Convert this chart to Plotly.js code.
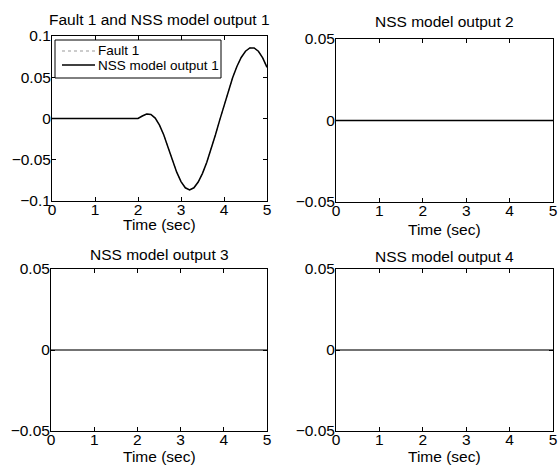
<!DOCTYPE html>
<html>
<head>
<meta charset="utf-8">
<script src="https://cdn.plot.ly/plotly-3.0.1.min.js"></script>
<style>html,body{margin:0;padding:0;background:#fff}#chart{width:560px;height:470px}</style>
</head>
<body>
<div id="chart"></div>
<script>
// ---- data ----
const time = [0, 0.5, 1, 1.5, 2.0, 2.1, 2.2, 2.3, 2.4, 2.5, 2.6, 2.7, 2.8, 2.9, 3.0, 3.1, 3.2, 3.3, 3.4, 3.5, 3.6, 3.7, 3.8, 3.9, 4.0, 4.1, 4.2, 4.3, 4.4, 4.5, 4.6, 4.7, 4.8, 4.9, 5.0];
const fault1 = [0, 0, 0, 0, 0, 0.0030, 0.0055, 0.0048, 0.0005, -0.0080, -0.0200, -0.0350, -0.0510, -0.0650, -0.0765, -0.0840, -0.0865, -0.0840, -0.0770, -0.0665, -0.0530, -0.0370, -0.0200, -0.0020, 0.0160, 0.0335, 0.0495, 0.0630, 0.0740, 0.0815, 0.0855, 0.0855, 0.0815, 0.0735, 0.0620];
const nssOutput1 = [0, 0, 0, 0, 0, 0.0030, 0.0055, 0.0048, 0.0005, -0.0080, -0.0200, -0.0350, -0.0510, -0.0650, -0.0765, -0.0840, -0.0865, -0.0840, -0.0770, -0.0665, -0.0530, -0.0370, -0.0200, -0.0020, 0.0160, 0.0335, 0.0495, 0.0630, 0.0740, 0.0815, 0.0855, 0.0855, 0.0815, 0.0735, 0.0620];
const timeFlat = [0, 1, 2, 3, 4, 5];
const nssOutput2 = [0, 0, 0, 0, 0, 0];
const nssOutput3 = [0, 0, 0, 0, 0, 0];
const nssOutput4 = [0, 0, 0, 0, 0, 0];
const titles = ["Fault 1 and NSS model output 1", "NSS model output 2", "NSS model output 3", "NSS model output 4"];
const legendNames = ["Fault 1", "NSS model output 1"];
const xLabel = "Time (sec)";
const xTicks = [0, 1, 2, 3, 4, 5];
const xTickText = ["0", "1", "2", "3", "4", "5"];
const yTicks1 = [-0.1, -0.05, 0, 0.05, 0.1];
const yTickText1 = ["\u22120.1", "\u22120.05", "0", "0.05", "0.1"];
const yTicks = [-0.05, 0, 0.05];
const yTickText = ["\u22120.05", "0", "0.05"];

// ---- layout ----
const W = 560, H = 470;
const FONT = '"Liberation Sans", Arial, Helvetica, sans-serif';
const FS = 15.5;
const boxes = [
  {l: 52, r: 267, t: 36, b: 201},
  {l: 336, r: 553, t: 39, b: 202},
  {l: 51, r: 267, t: 269, b: 431},
  {l: 336, r: 553, t: 269, b: 431}
];
function xd(b){ return [b.l / W, b.r / W]; }
function yd(b){ return [1 - b.b / H, 1 - b.t / H]; }

function xaxis(b, anchor){
  return {domain: xd(b), anchor: anchor, range: [0, 5], tickvals: xTicks, ticktext: xTickText,
    ticks: 'inside', ticklen: 4, tickcolor: '#000', showline: true, linecolor: '#000', linewidth: 1,
    mirror: 'ticks', showgrid: false, zeroline: false, ticklabelstandoff: -6,
    tickfont: {size: FS, color: '#000', family: FONT}, fixedrange: true};
}
function yaxis(b, anchor, tv, tt, rng){
  return {domain: yd(b), anchor: anchor, range: rng, tickvals: tv, ticktext: tt,
    ticks: 'inside', ticklen: 4, tickcolor: '#000', showline: true, linecolor: '#000', linewidth: 1,
    mirror: 'ticks', showgrid: false, zeroline: false, ticklabelstandoff: -3,
    tickfont: {size: FS, color: '#000', family: FONT}, fixedrange: true};
}

const traces = [
  {x: time, y: fault1, xaxis: 'x', yaxis: 'y', mode: 'lines', name: legendNames[0],
   line: {color: '#999', width: 1, dash: 'dot'}},
  {x: time, y: nssOutput1, xaxis: 'x', yaxis: 'y', mode: 'lines', name: legendNames[1],
   line: {color: '#000', width: 1.5}},
  {x: timeFlat, y: nssOutput2, xaxis: 'x2', yaxis: 'y2', mode: 'lines',
   line: {color: '#000', width: 1.3}},
  {x: timeFlat, y: nssOutput3, xaxis: 'x3', yaxis: 'y3', mode: 'lines',
   line: {color: '#444', width: 1.4}},
  {x: timeFlat, y: nssOutput4, xaxis: 'x4', yaxis: 'y4', mode: 'lines',
   line: {color: '#444', width: 1.4}}
];

const annotations = [];
const titleY = [20, 22, 255, 256];
const labelY = [224, 230, 456, 456];
boxes.forEach((b, i) => {
  annotations.push({text: titles[i], xref: 'paper', yref: 'paper', x: (b.l + b.r) / 2 / W, y: 1 - titleY[i] / H,
    xanchor: 'center', yanchor: 'middle', showarrow: false, font: {size: FS, color: '#000', family: FONT}});
  annotations.push({text: xLabel, xref: 'paper', yref: 'paper', x: (b.l + b.r) / 2 / W, y: 1 - labelY[i] / H,
    xanchor: 'center', yanchor: 'middle', showarrow: false, font: {size: FS, color: '#000', family: FONT}});
});

// compact MATLAB-style legend box inside subplot 1
const leg = {l: 55, r: 221, t: 40, b: 78, row1: 51, row2: 65, lineL: 62, lineR: 95, textL: 96};
const shapes = [
  {type: 'rect', xref: 'paper', yref: 'paper', x0: leg.l / W, x1: leg.r / W, y0: 1 - leg.b / H, y1: 1 - leg.t / H,
   line: {color: '#000', width: 1}, fillcolor: '#fff', layer: 'above'},
  {type: 'line', xref: 'paper', yref: 'paper', x0: leg.lineL / W, x1: leg.lineR / W, y0: 1 - leg.row1 / H, y1: 1 - leg.row1 / H,
   line: {color: '#999', width: 1, dash: 'dot'}, layer: 'above'},
  {type: 'line', xref: 'paper', yref: 'paper', x0: leg.lineL / W, x1: leg.lineR / W, y0: 1 - leg.row2 / H, y1: 1 - leg.row2 / H,
   line: {color: '#000', width: 1.5}, layer: 'above'}
];
[leg.row1, leg.row2].forEach((ry, i) => {
  annotations.push({text: legendNames[i], xref: 'paper', yref: 'paper', x: leg.textL / W, y: 1 - ry / H,
    xanchor: 'left', yanchor: 'middle', showarrow: false, font: {size: 13.5, color: '#000', family: FONT}});
});

const layout = {
  width: W, height: H,
  margin: {l: 0, r: 0, t: 0, b: 0},
  paper_bgcolor: '#fff', plot_bgcolor: '#fff',
  font: {family: FONT, color: '#000', size: FS},
  showlegend: false,
  xaxis: xaxis(boxes[0], 'y'),
  yaxis: yaxis(boxes[0], 'x', yTicks1, yTickText1, [-0.1, 0.1]),
  xaxis2: xaxis(boxes[1], 'y2'),
  yaxis2: yaxis(boxes[1], 'x2', yTicks, yTickText, [-0.05, 0.05]),
  xaxis3: xaxis(boxes[2], 'y3'),
  yaxis3: yaxis(boxes[2], 'x3', yTicks, yTickText, [-0.05, 0.05]),
  xaxis4: xaxis(boxes[3], 'y4'),
  yaxis4: yaxis(boxes[3], 'x4', yTicks, yTickText, [-0.05, 0.05]),
  shapes: shapes,
  annotations: annotations
};

Plotly.newPlot('chart', traces, layout, {staticPlot: true, displayModeBar: false});
</script>
</body>
</html>
